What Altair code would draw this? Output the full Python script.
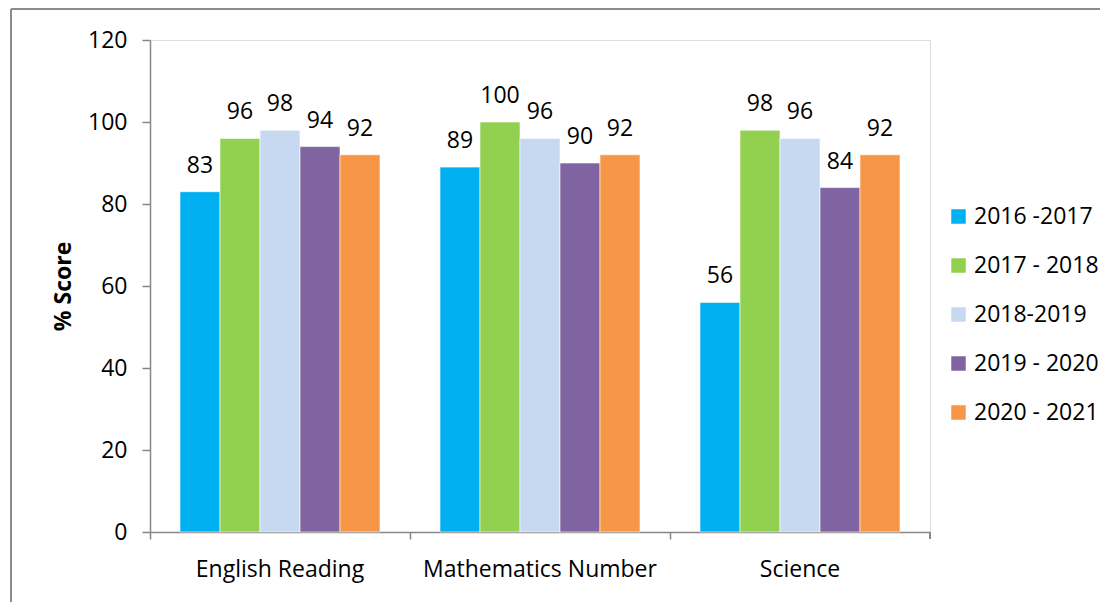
import altair as alt
import pandas as pd

subjects = ["English Reading", "Mathematics Number", "Science"]
years = ["2016 -2017", "2017 - 2018", "2018-2019", "2019 - 2020", "2020 - 2021"]
english = [83, 96, 98, 94, 92]
maths = [89, 100, 96, 90, 92]
science = [56, 98, 96, 84, 92]
colors = ["#00B0F0", "#92D050", "#C6D9F1", "#8064A2", "#F79646"]

rows = []
for subj, vals in zip(subjects, [english, maths, science]):
    for y, v in zip(years, vals):
        rows.append({"Subject": subj, "Year": y, "Score": v})
df = pd.DataFrame(rows)

FONT = "Open Sans"
FS = 23
W, H = 780, 492

x_enc = alt.X("Subject:N", sort=subjects, title=None,
              scale=alt.Scale(paddingInner=0, paddingOuter=0),
              axis=alt.Axis(bandPosition=0, labelAngle=0, labelFontSize=FS, labelFont=FONT,
                            labelColor="black", labelPadding=19, labelLimit=300,
                            tickSize=7, tickColor="#868686",
                            domainColor="#868686", domainWidth=1.5, tickWidth=1.5))
xo_enc = alt.XOffset("Year:N", sort=years,
                     scale=alt.Scale(paddingInner=0, paddingOuter=0.75))

bars = alt.Chart(df).mark_bar(stroke="white", strokeWidth=0.6).encode(
    x=x_enc,
    xOffset=xo_enc,
    y=alt.Y("Score:Q", title="% Score",
            scale=alt.Scale(domain=[0, 120], nice=False),
            axis=alt.Axis(values=[0, 20, 40, 60, 80, 100, 120], grid=False,
                          labelFontSize=FS, labelFont=FONT, labelColor="black",
                          labelPadding=15, tickSize=8, tickColor="#868686",
                          domainColor="#868686", domainWidth=1.5, tickWidth=1.5,
                          titleFontSize=FS, titleFont=FONT, titleFontWeight="bold",
                          titleColor="black", titlePadding=12)),
    color=alt.Color("Year:N", sort=years,
                    scale=alt.Scale(domain=years, range=colors),
                    legend=alt.Legend(title=None, orient="none", legendX=797, legendY=165,
                                      symbolType="square", symbolSize=210,
                                      symbolStrokeWidth=0, labelFontSize=FS, labelFont=FONT,
                                      labelColor="black", rowPadding=25, labelOffset=4,
                                      labelLimit=300)),
)

labels = alt.Chart(df).mark_text(baseline="alphabetic", dy=-19, fontSize=FS,
                                  font=FONT, color="black").encode(
    x=alt.X("Subject:N", sort=subjects),
    xOffset=xo_enc,
    y=alt.Y("Score:Q"),
    text=alt.Text("Score:Q"),
)

# right-end axis tick and chart border
end_tick = alt.Chart(df).mark_rule(color="#868686", strokeWidth=1.5).encode(
    x=alt.value(W), y=alt.value(H), y2=alt.value(H + 7))
border_top = alt.Chart(df).mark_rule(color="#8c8c8c", strokeWidth=2).encode(
    x=alt.value(-139), x2=alt.value(960), y=alt.value(-31))
border_left = alt.Chart(df).mark_rule(color="#8c8c8c", strokeWidth=2).encode(
    x=alt.value(-139), y=alt.value(-31), y2=alt.value(H + 80))

chart = alt.layer(bars, labels, end_tick, border_top, border_left).properties(
    width=W, height=H,
    autosize=alt.AutoSizeParams(type="none"),
    padding={"left": 142, "top": 32, "right": 170, "bottom": 70},
).configure_view(stroke=None).configure(background="white")

chart.save("out.html", embed_options={"renderer": "svg", "actions": False})
